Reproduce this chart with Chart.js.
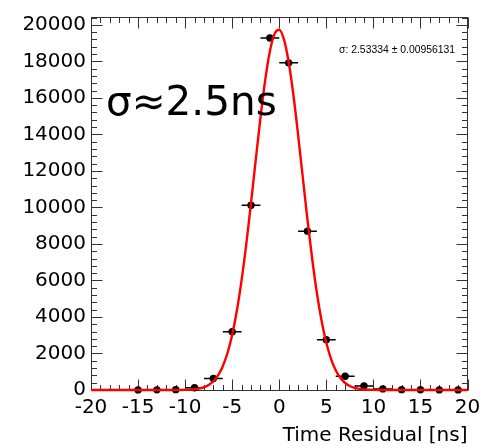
<!DOCTYPE html>
<html><head><meta charset="utf-8">
<script src="https://cdn.jsdelivr.net/npm/chart.js@4.4.1/dist/chart.umd.min.js"></script>
<style>html,body{margin:0;padding:0;background:#fff}</style>
</head><body>
<canvas id="c" width="492" height="448"></canvas>
<script>
// ---- data ----
const binCenters = [-15, -13, -11, -9, -7, -5, -3, -1, 1, 3, 5, 7, 9, 11, 13, 15, 17, 19];
const binCounts  = [5, 8, 20, 120, 630, 3190, 10120, 19280, 17920, 8700, 2750, 750, 220, 60, 20, 10, 5, 5];
const binHalfWidth = [1, 1, 1, 1, 1, 1, 1, 1, 1, 1, 1, 1, 1, 1, 1, 1, 1, 1];

const fitX = [-20, -15, -12, -11, -10, -9.5, -9, -8.5, -8, -7.5, -7, -6.5, -6, -5.5, -5, -4.5, -4, -3.5, -3, -2.5, -2, -1.5, -1, -0.5, 0,
              0.5, 1, 1.5, 2, 2.5, 3, 3.5, 4, 4.5, 5, 5.5, 6, 6.5, 7, 7.5, 8, 8.5, 9, 9.5, 10, 11, 12, 15, 20];
const fitY = [0, 0, 0, 2, 9, 20, 41, 80, 151, 274, 479, 805, 1302, 2025, 3026, 4353, 6020, 8005, 10238, 12593, 14897, 16947, 18540, 19505, 19735,
              19203, 17968, 16170, 13993, 11648, 9322, 7175, 5313, 3781, 2589, 1704, 1079, 657, 385, 217, 117, 61, 31, 15, 7, 1, 0, 0, 0];

const xTickValues = [-20, -15, -10, -5, 0, 5, 10, 15, 20];
const yTickValues = [0, 2000, 4000, 6000, 8000, 10000, 12000, 14000, 16000, 18000, 20000];
const xTitle = "Time Residual [ns]";
const statsLabel = "σ: 2.53334 ± 0.00956131";
const bigLabel = "σ≈2.5ns";

// ---- ROOT-style frame, inner ticks, error bars, labels ----
const rootFrame = {
  id: 'rootFrame',
  beforeDatasetsDraw(chart) {
    const {ctx, chartArea: a, scales: {x, y}} = chart;
    const L = Math.round(a.left) + 0.5, R = Math.round(a.right) - 0.5;
    const T = Math.round(a.top) + 0.5, B = Math.round(a.bottom) + 0.5;
    ctx.save();
    ctx.strokeStyle = '#333';
    ctx.lineWidth = 1;
    ctx.strokeRect(L, T, R - L, B - T);
    ctx.beginPath();
    for (let v = x.min; v <= x.max + 1e-9; v += 1) {
      const px = Math.round(x.getPixelForValue(v)) + 0.5;
      const len = (Math.abs(v % 5) < 1e-9) ? 11 : 5.5;
      ctx.moveTo(px, B); ctx.lineTo(px, B - len);
      ctx.moveTo(px, T); ctx.lineTo(px, T + len);
    }
    for (let v = 0; v <= y.max + 1e-9; v += 400) {
      const py = Math.round(y.getPixelForValue(v)) + 0.5;
      const len = (Math.abs(v % 2000) < 1e-9) ? 11 : 5.5;
      ctx.moveTo(L, py); ctx.lineTo(L + len, py);
      ctx.moveTo(R, py); ctx.lineTo(R - len, py);
    }
    ctx.stroke();
    ctx.strokeStyle = '#000';
    ctx.lineWidth = 1.5;
    ctx.beginPath();
    binCenters.forEach((c, i) => {
      const py = y.getPixelForValue(binCounts[i]);
      ctx.moveTo(x.getPixelForValue(c - binHalfWidth[i]), py);
      ctx.lineTo(x.getPixelForValue(c + binHalfWidth[i]), py);
    });
    ctx.stroke();
    ctx.restore();
  },
  afterDraw(chart) {
    const {ctx} = chart;
    ctx.save();
    ctx.fillStyle = '#000';
    ctx.textBaseline = 'alphabetic';
    ctx.textAlign = 'left';
    ctx.font = '10.4px "Liberation Sans", Arial, sans-serif';
    ctx.fillText(statsLabel, 339, 52.5);
    ctx.font = '40.5px "DejaVu Sans", sans-serif';
    ctx.fillText(bigLabel, 106, 115);
    ctx.restore();
  }
};

const tickFont = {family: '"DejaVu Sans", sans-serif', size: 20};

new Chart(document.getElementById('c'), {
  type: 'scatter',
  data: {
    datasets: [
      {
        type: 'line',
        label: 'fit',
        data: fitX.map((v, i) => ({x: v, y: fitY[i]})),
        borderColor: '#ff0000',
        borderWidth: 2.4,
        pointRadius: 0,
        cubicInterpolationMode: 'monotone',
        fill: false,
        clip: 3,
        order: 0
      },
      {
        label: 'data',
        data: binCenters.map((v, i) => ({x: v, y: binCounts[i]})),
        backgroundColor: '#000',
        borderColor: '#000',
        borderWidth: 0,
        pointRadius: 3.7,
        clip: 5,
        order: 1
      }
    ]
  },
  options: {
    responsive: false,
    animation: false,
    devicePixelRatio: 1,
    layout: {padding: {left: 0, right: 24.5, top: 10, bottom: 0}},
    plugins: {legend: {display: false}, tooltip: {enabled: false}},
    scales: {
      x: {
        type: 'linear', min: -20, max: 20,
        grid: {display: false, drawTicks: false},
        border: {display: false},
        afterBuildTicks: s => { s.ticks = xTickValues.map(v => ({value: v})); },
        afterFit: s => { s.height = 58; },
        ticks: {font: tickFont, color: '#000', padding: 6, maxRotation: 0, autoSkip: false, includeBounds: false},
        title: {display: true, text: xTitle, align: 'end', color: '#000', font: tickFont, padding: {top: 5, bottom: 0}}
      },
      y: {
        type: 'linear', min: 0, max: 20430,
        grid: {display: false, drawTicks: false},
        border: {display: false},
        afterBuildTicks: s => { s.ticks = yTickValues.map(v => ({value: v})); },
        afterFit: s => { s.width = 91; },
        ticks: {font: tickFont, color: '#000', padding: 5, includeBounds: false, callback: v => String(v)}
      }
    }
  },
  plugins: [rootFrame]
});
</script>
</body></html>
